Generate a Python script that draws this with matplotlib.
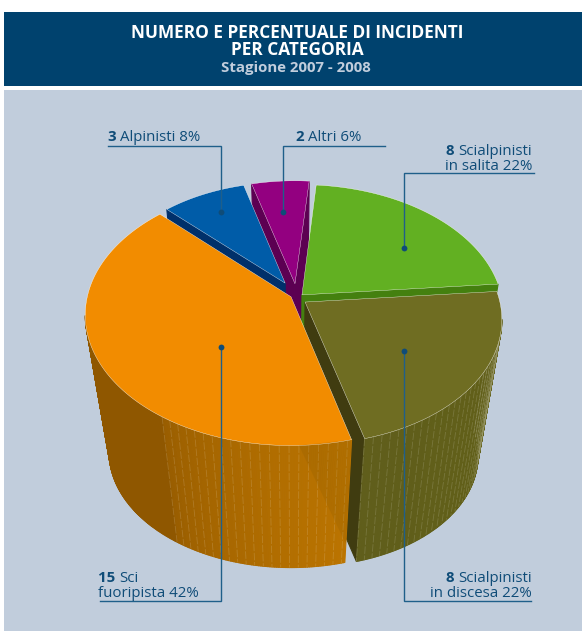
import matplotlib
matplotlib.use("Agg")
import matplotlib.pyplot as plt
from matplotlib.colors import to_rgb
from matplotlib.patches import Rectangle, Polygon
from matplotlib.collections import PolyCollection
import numpy as np

plt.rcParams['font.family'] = ['Open Sans', 'DejaVu Sans']

# incidents per category, counter-clockwise from the start angle
categories = ['Sci fuoripista', 'Scialpinisti in discesa', 'Scialpinisti in salita', 'Altri', 'Alpinisti']
counts = [15, 8, 8, 2, 3]
percents = [42, 22, 22, 6, 8]

# how far each wedge is pulled out in the pie plane, and its radius
offsets = [(-0.01, 0.01), (0.06, -0.032), (0.045, 0.025), (0.01, 0.115), (-0.04, 0.12)]
radii = [1.02, 0.97, 1.0, 0.95, 0.93]
top_colors = ['#f28c00', '#6f6d22', '#62b022', '#930080', '#005ca8']
cut_colors = ['#8f5700', '#403c10', '#44800f', '#5c0052', '#00306a']
wall_dark = ['#8f5700', '#5f5d1c', '#44800f', '#5c0052', '#00306a']
wall_light = ['#bb7400', '#626018', '#44800f', '#5c0052', '#00306a']

TEXT = '#0f4c78'
LINE = '#1f5f8a'

START = 135.0
CX, CY = 293.0, 298.0
RX, TILT = 200.0, 126.0
PERSP = 0.136
DEPTH = 139.0
SHRINK = 0.115


def project(ang, rad, off, lev):
    # plane position -> perspective -> slide down and shrink towards the base
    X = off[0] + rad * np.cos(ang)
    Y = off[1] + rad * np.sin(ang)
    s = 1 / (1 + PERSP * Y)
    x = RX * X * s * (1 - SHRINK * lev) + CX
    y = -TILT * Y * s * (1 - SHRINK * lev) + CY + DEPTH * lev
    return x, y


def faces_viewer(nx, ny, ang, rad, off):
    # viewer stands in front of the pie, on the -Y side of the plane
    X = off[0] + rad * np.cos(ang)
    Y = off[1] + rad * np.sin(ang)
    return nx * (-X) + ny * (-1 / PERSP - Y) > 0


def draw_wedge(ax, z, a0, a1, off, r, top, cut, dark, light, stripe_from=None):
    angs = np.radians(np.linspace(a0, a1, int(abs(a1 - a0)) * 2 + 2))

    # the cut faces that can be seen, edged in their own colour so no seam shows
    for a, turn in ((a0, -90), (a1, 90)):
        ar = np.radians(a)
        n = np.radians(a + turn)
        if not faces_viewer(np.cos(n), np.sin(n), ar, r, off):
            continue
        pts = [project(ar, 0, off, 0), project(ar, r, off, 0),
               project(ar, r, off, 1), project(ar, 0, off, 1)]
        ax.add_patch(Polygon(pts, closed=True, fc=cut, ec=cut, lw=0.8, zorder=z))

    # outer wall as narrow quads so the shade can run along the arc
    xt, yt = project(angs, r, off, 0)
    xb, yb = project(angs, r, off, 1)
    quads = []
    cols = []
    d, l = np.array(to_rgb(dark)), np.array(to_rgb(light))
    for i in range(len(angs) - 1):
        if not faces_viewer(np.cos(angs[i]), np.sin(angs[i]), angs[i], r, off):
            continue
        quads.append([(xt[i], yt[i]), (xt[i + 1], yt[i + 1]), (xb[i + 1], yb[i + 1]), (xb[i], yb[i])])
        f = i / (len(angs) - 2)
        if stripe_from is not None:
            a = np.degrees(angs[i])
            f = 0.2 + 0.8 * ((a - stripe_from) / (a1 - stripe_from)) ** 0.7 if a > stripe_from else 0.0
        cols.append(d + (l - d) * f)
    if quads:
        ax.add_collection(PolyCollection(quads, facecolors=cols, edgecolors=cols, linewidths=0.8, zorder=z + 1))

    # pale dashes down the lit part of the wall
    if stripe_from is not None:
        for a in np.arange(stripe_from, a1, 2.4):
            ar = np.radians(a)
            x0, y0 = project(ar, r, off, 0)
            x1, y1 = project(ar, r, off, 1)
            ax.plot([x0, x1], [y0, y1], color='white', alpha=0.15, lw=0.6,
                    ls=(0, (9, 2)), zorder=z + 2)

    # top face
    ax0, ay0 = project(0.0, 0, off, 0)
    pts = [(ax0, ay0)] + list(zip(xt, yt))
    ax.add_patch(Polygon(pts, closed=True, fc=top, ec='white', lw=0.25, zorder=z + 3))


def text_runs(x, y, runs, ha='left', size=10.8):
    # mixed weights on one baseline, measured so the right edge can be aligned
    rend = fig.canvas.get_renderer()
    items = [ax.text(0, y, t, color=TEXT, fontsize=size, fontweight=w, va='baseline', ha='left', zorder=100)
             for t, w in runs]
    widths = [it.get_window_extent(rend).width for it in items]
    pos = x - sum(widths) if ha == 'right' else x
    for it, w in zip(items, widths):
        it.set_x(pos)
        pos += w


fig = plt.figure(figsize=(5.82, 6.32), dpi=100, facecolor='white')
ax = fig.add_axes([0, 0, 1, 1])
ax.set_xlim(0, 582)
ax.set_ylim(632, 0)
ax.axis('off')

ax.add_patch(Rectangle((4, 12), 578, 74, fc='#00426e', ec='none'))
ax.add_patch(Rectangle((4, 90), 578, 541, fc='#c1cddc', ec='none'))

ax.text(297, 37.5, 'NUMERO E PERCENTUALE DI INCIDENTI', color='white', fontsize=12.4, fontweight='bold',
        ha='center', va='baseline', zorder=100)
ax.text(297, 55, 'PER CATEGORIA', color='white', fontsize=12.4, fontweight='bold',
        ha='center', va='baseline', zorder=100)
ax.text(296, 72, 'Stagione 2007 - 2008', color='#c1cddc', fontsize=10.8, fontweight='bold',
        ha='center', va='baseline', zorder=100)

# wedge limits come from the counts
total = sum(counts)
edges = START + np.concatenate([[0], np.cumsum(counts)]) / total * 360

# far wedges first, nearest last
for k, i in enumerate([3, 4, 2, 1, 0]):
    stripe = None
    if i == 0:
        stripe = 236.0
    if i == 1:
        stripe = edges[1]
    draw_wedge(ax, 2 + 5 * k, edges[i], edges[i + 1], offsets[i], radii[i], top_colors[i], cut_colors[i],
               wall_dark[i], wall_light[i], stripe)

# darker diagonal streak at the near end of the big wedge's wall
a_s, a_e = np.radians(272.0), np.radians(edges[1])
streak = [project(a_s, radii[0], offsets[0], 0), project(a_e, radii[0], offsets[0], 0),
          project(a_e, radii[0], offsets[0], 0.85)]
ax.add_patch(Polygon(streak, closed=True, fc='#6a4a00', ec='none', alpha=0.12, zorder=50))


def leader(px, py):
    ax.plot(px, py, color=LINE, lw=1.0, zorder=90, solid_joinstyle='miter')
    ax.plot(px[-1], py[-1], 'o', color='#0f4c78', ms=4.2, mew=0, zorder=90)


leader([108, 221, 221], [146, 146, 212])
leader([385, 283, 283], [146, 146, 212])
leader([534, 404, 404], [173, 173, 248])
leader([531, 404, 404], [601, 601, 351])
leader([100, 221, 221], [601, 601, 347])

b, r = 'bold', 'normal'
text_runs(108, 141, [(f'{counts[4]} ', b), (f'Alpinisti {percents[4]}%', r)])
text_runs(296, 141, [(f'{counts[3]} ', b), (f'Altri {percents[3]}%', r)])
text_runs(532, 155, [(f'{counts[2]} ', b), ('Scialpinisti', r)], ha='right')
text_runs(532, 170, [(f'in salita {percents[2]}%', r)], ha='right')
text_runs(532, 582, [(f'{counts[1]} ', b), ('Scialpinisti', r)], ha='right')
text_runs(532, 597, [(f'in discesa {percents[1]}%', r)], ha='right')
text_runs(98, 582, [(f'{counts[0]} ', b), ('Sci', r)])
text_runs(98, 597, [(f'fuoripista {percents[0]}%', r)])

fig.savefig('out.png', dpi=100, facecolor='white')
